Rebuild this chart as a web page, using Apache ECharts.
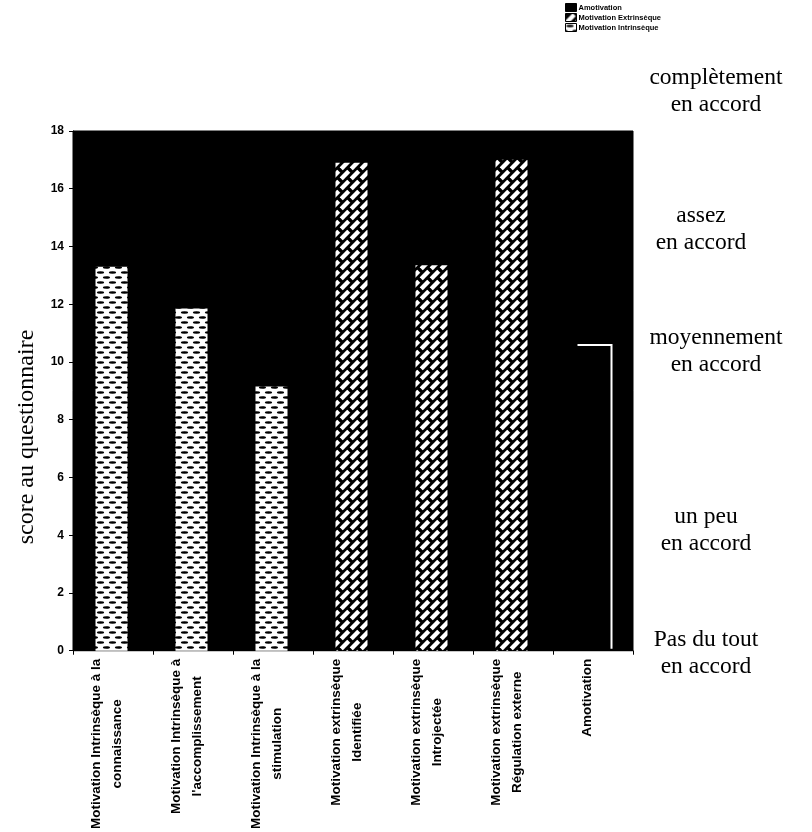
<!DOCTYPE html>
<html>
<head>
<meta charset="utf-8">
<style>
  html, body { margin: 0; padding: 0; background: #fff; }
  #chart { width: 812px; height: 832px; }
</style>
<script src="https://cdn.jsdelivr.net/npm/echarts@6/dist/echarts.min.js"></script>
</head>
<body>
<div id="chart"></div>
<script>
// Categories (axis labels, two lines each)
const categories = [
  'Motivation Intrinsèque à la\nconnaissance',
  'Motivation Intrinsèque à\nl\'accomplissement',
  'Motivation Intrinsèque à la\nstimulation',
  'Motivation extrinsèque\nIdentifiée',
  'Motivation extrinsèque\nIntrojectée',
  'Motivation extrinsèque\nRégulation externe',
  'Amotivation'
];

// Mean scores per motivation type
const intrinseque = [13.3, 11.85, 9.15, null, null, null, null];
const extrinseque = [null, null, null, 16.9, 13.35, 17.0, null];
const amotivation = [null, null, null, null, null, null, 10.55];

// Y axis scale
const yMin = 0;
const yMax = 18;
const yStep = 2;

// Agreement scale written beside the plot
const echelle = [
  'complètement\nen accord',
  'assez\nen accord',
  'moyennement\nen accord',
  'un peu\nen accord',
  'Pas du tout\nen accord'
];
const yTitle = 'score au questionnaire';

// Fill patterns
function dashTile() {
  const c = document.createElement('canvas');
  c.width = 12; c.height = 10;
  const g = c.getContext('2d');
  g.fillStyle = '#fff';
  g.fillRect(0, 0, 12, 10);
  g.fillStyle = '#000';
  const dash = (cx, cy) => {
    g.beginPath();
    g.ellipse(cx, cy, 3.6, 1.2, 0, 0, Math.PI * 2);
    g.fill();
  };
  dash(4.5, 2.5);
  dash(10.5, 7.5);
  dash(-1.5, 7.5);
  return c;
}

function hatchTile() {
  const s = 10;
  const c = document.createElement('canvas');
  c.width = s; c.height = s;
  const g = c.getContext('2d');
  g.fillStyle = '#000';
  g.fillRect(0, 0, s, s);
  g.strokeStyle = '#fff';
  g.lineWidth = 4.4;
  g.lineCap = 'butt';
  const d = 3.8;
  for (let ox = -s; ox <= s; ox += s) {
    for (let oy = -s; oy <= s; oy += s) {
      const cx = s / 2 + ox, cy = s / 2 + oy;
      g.beginPath();
      g.moveTo(cx - d, cy + d);
      g.lineTo(cx + d, cy - d);
      g.stroke();
    }
  }
  return c;
}

const patIntr = { image: dashTile(), repeat: 'repeat' };
const patExtr = { image: hatchTile(), repeat: 'repeat' };

const labelFont = '"Liberation Sans", Arial, sans-serif';
const serifFont = '"Liberation Serif", "Times New Roman", serif';

const chart = echarts.init(document.getElementById('chart'), null, { renderer: 'canvas' });

const graphics = [
  {
    type: 'text',
    x: 27, y: 437,
    rotation: Math.PI / 2,
    style: {
      text: yTitle,
      font: '24px ' + serifFont,
      fill: '#000',
      textAlign: 'center',
      textVerticalAlign: 'middle'
    }
  }
];
const scalePos = [[716, 91], [701, 229], [716, 351], [706, 530], [706, 653]];
echelle.forEach((t, i) => {
  graphics.push({
    type: 'text',
    x: scalePos[i][0], y: scalePos[i][1],
    style: {
      text: t,
      font: '23.5px ' + serifFont,
      lineHeight: 27,
      fill: '#000',
      textAlign: 'center',
      textVerticalAlign: 'middle'
    }
  });
});

chart.setOption({
  animation: false,
  backgroundColor: '#fff',
  grid: {
    left: 73, right: 179, top: 131, bottom: 180,
    show: true,
    backgroundColor: '#000',
    borderColor: '#000',
    borderWidth: 1
  },
  legend: {
    orient: 'vertical',
    left: 565, top: 3,
    padding: 0,
    itemWidth: 11, itemHeight: 8, itemGap: 1,
    icon: 'rect',
    data: ['Amotivation', 'Motivation Extrinsèque', 'Motivation Intrinsèque'],
    itemStyle: { borderColor: '#000', borderWidth: 1 },
    textStyle: { fontFamily: labelFont, fontWeight: 'bold', fontSize: 7.5, color: '#000', padding: [0, 0, 0, -3] }
  },
  xAxis: {
    type: 'category',
    data: categories,
    axisLine: { lineStyle: { color: '#000', width: 1 } },
    axisTick: { show: true, length: 4, lineStyle: { color: '#000' } },
    axisLabel: {
      interval: 0,
      rotate: 90,
      margin: 8,
      padding: [0, 0, 12, 0],
      formatter: v => v.split('\n').map(l => '{c|' + l + '}').join('\n'),
      rich: {
        c: {
          align: 'center',
          fontFamily: labelFont,
          fontWeight: 'bold',
          fontSize: 13.5,
          lineHeight: 21,
          color: '#000'
        }
      }
    }
  },
  yAxis: {
    type: 'value',
    min: yMin, max: yMax, interval: yStep,
    splitLine: { show: false },
    axisLine: { show: true, lineStyle: { color: '#000' } },
    axisTick: { show: true, length: 4, lineStyle: { color: '#000' } },
    axisLabel: {
      margin: 9,
      fontFamily: labelFont,
      fontWeight: 'bold',
      fontSize: 12,
      color: '#000'
    }
  },
  series: [
    {
      name: 'Motivation Intrinsèque',
      type: 'bar',
      data: intrinseque,
      barWidth: 32,
      barGap: '-100%',
      itemStyle: { color: patIntr }
    },
    {
      name: 'Motivation Extrinsèque',
      type: 'bar',
      data: extrinseque,
      barWidth: 32,
      barGap: '-100%',
      itemStyle: { color: patExtr }
    },
    {
      name: 'Amotivation',
      type: 'bar',
      data: amotivation,
      barWidth: 35,
      barGap: '-100%',
      // white edge along the top and right side only
      itemStyle: {
        color: '#000',
        shadowColor: '#fff',
        shadowBlur: 0,
        shadowOffsetX: 2,
        shadowOffsetY: -2
      }
    }
  ],
  graphic: graphics
});
</script>
</body>
</html>
